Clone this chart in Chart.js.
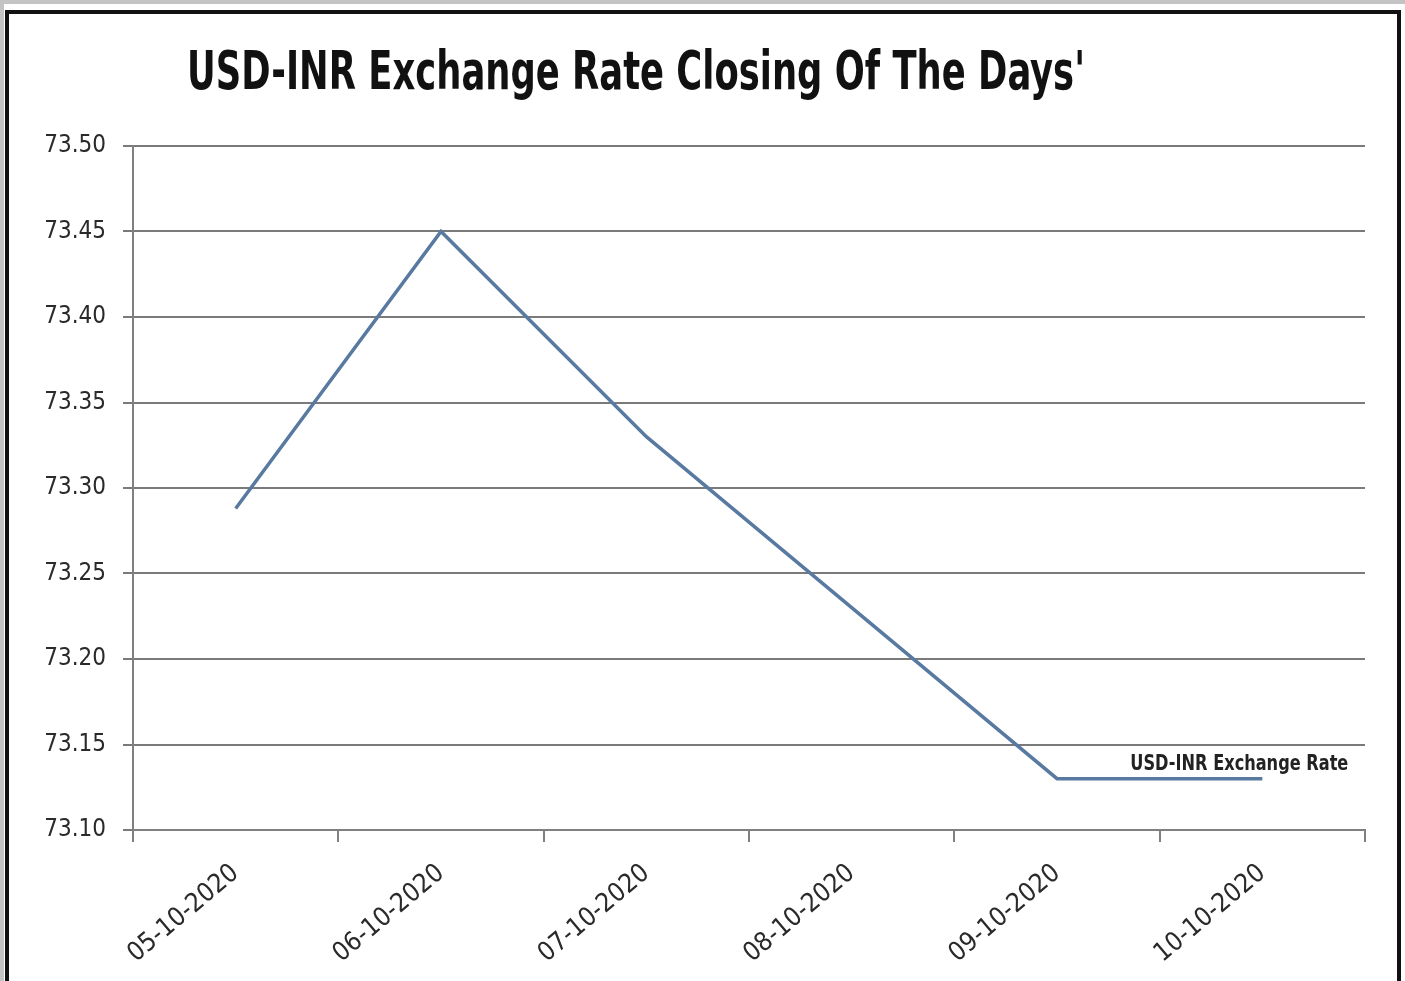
<!DOCTYPE html>
<html>
<head>
<meta charset="utf-8">
<script src="https://cdn.jsdelivr.net/npm/chart.js@4.4.0/dist/chart.umd.min.js"></script>
<style>
  html, body { margin: 0; padding: 0; background: #fff; }
  #wrap { position: relative; width: 1405px; height: 981px; overflow: hidden; }
  #rateChart { position: absolute; left: 0; top: 0; }
  #frame {
    position: absolute; left: 5px; top: 10px; width: 1388px; height: 1000px;
    border: 4px solid #111; pointer-events: none;
  }
  #shade {
    position: absolute; left: 0; top: 0; width: 1405px; height: 1000px;
    border-top: 4px solid #c4c4c4; border-left: 4px solid #c4c4c4;
    box-sizing: border-box; pointer-events: none;
  }
</style>
</head>
<body>
<div id="wrap">
  <canvas id="rateChart" width="1405" height="981"></canvas>
  <div id="shade"></div>
  <div id="frame"></div>
</div>
<script>
// chart data
const titleText = "USD-INR Exchange Rate Closing Of The Days'";
const seriesName = "USD-INR Exchange Rate";
const days = ["05-10-2020", "06-10-2020", "07-10-2020", "08-10-2020", "09-10-2020", "10-10-2020"];
const closingRates = [73.288, 73.45, 73.33, 73.23, 73.13, 73.13];
const yMin = 73.10;
const yMax = 73.50;
const yStep = 0.05;

const condensed = "'DejaVu Sans Condensed', 'Liberation Sans Narrow', 'Roboto', sans-serif";

// title drawn squeezed to match the narrow original font
const titlePlugin = {
  id: "squeezedTitle",
  afterDraw(chart) {
    const ctx = chart.ctx;
    ctx.save();
    ctx.font = "bold 54px " + condensed;
    ctx.fillStyle = "#111";
    ctx.textAlign = "center";
    ctx.textBaseline = "alphabetic";
    const w = ctx.measureText(titleText).width;
    ctx.translate(636, 89);
    ctx.scale(898 / w, 1);
    ctx.fillText(titleText, 0, 0);
    ctx.restore();
  },
};

// series name label next to the last point
const seriesLabelPlugin = {
  id: "seriesLabel",
  afterDatasetsDraw(chart) {
    const meta = chart.getDatasetMeta(0);
    const last = meta.data[meta.data.length - 1];
    const ctx = chart.ctx;
    ctx.save();
    ctx.font = "bold 21px " + condensed;
    ctx.fillStyle = "#222";
    ctx.textAlign = "center";
    ctx.textBaseline = "middle";
    const w = ctx.measureText(seriesName).width;
    ctx.translate(last.x - 23, last.y - 14);
    ctx.scale(218 / w, 1);
    ctx.fillText(seriesName, 0, 0);
    ctx.restore();
  },
};

const ctx = document.getElementById("rateChart").getContext("2d");
const rateChart = new Chart(ctx, {
  type: "line",
  data: {
    labels: days,
    datasets: [
      {
        label: seriesName,
        data: closingRates,
        borderColor: "#5879a0",
        borderWidth: 3.5,
        pointRadius: 0,
        tension: 0,
        fill: false,
      },
    ],
  },
  options: {
    responsive: false,
    animation: false,
    layout: { padding: { top: 146, right: 40, bottom: 0, left: 0 } },
    plugins: {
      legend: { display: false },
      title: { display: false },
      tooltip: { enabled: false },
    },
    scales: {
      x: {
        offset: true,
        grid: {
          offset: true,
          drawOnChartArea: false,
          drawTicks: true,
          tickLength: 12,
          color: "#808080",
          lineWidth: 2,
        },
        border: { display: true, color: "#808080", width: 2 },
        ticks: {
          minRotation: 40,
          maxRotation: 40,
          padding: 16,
          color: "#2a2a2a",
          font: { family: condensed, size: 26 },
        },
        afterFit(scale) {
          scale.height = 151;
        },
      },
      y: {
        min: yMin,
        max: yMax,
        grid: {
          color: "#7a7a7a",
          lineWidth: 2,
          drawTicks: true,
          tickLength: 10,
        },
        border: { display: true, color: "#808080", width: 2 },
        ticks: {
          stepSize: yStep,
          padding: 17,
          color: "#2a2a2a",
          font: { family: condensed, size: 24 },
          callback: (v) => Number(v).toFixed(2),
        },
        afterFit(scale) {
          scale.width = 133;
        },
      },
    },
  },
  plugins: [titlePlugin, seriesLabelPlugin],
});
</script>
</body>
</html>
